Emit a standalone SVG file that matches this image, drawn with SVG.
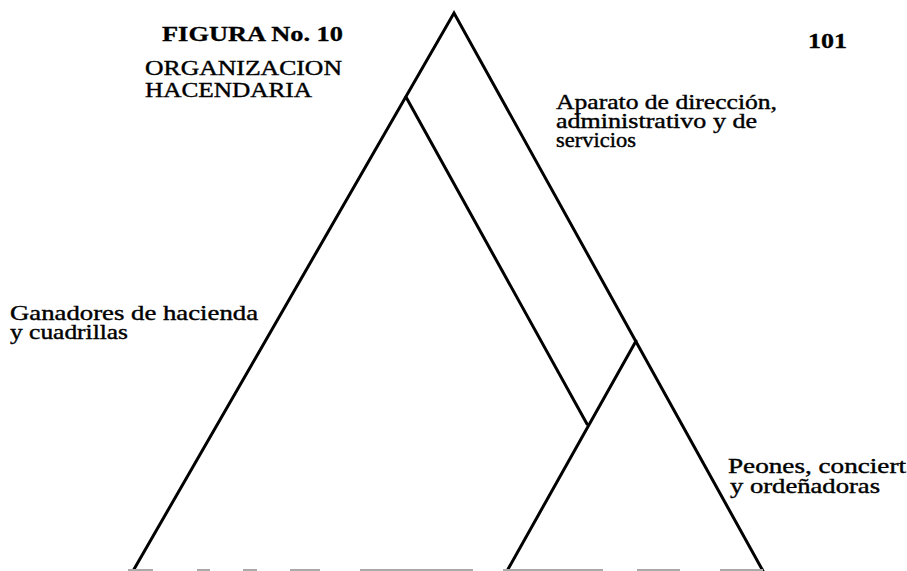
<svg xmlns="http://www.w3.org/2000/svg" width="907" height="571" viewBox="0 0 907 571">
<style>
.t{font-family:"Liberation Serif","Times New Roman",serif;fill:#000;font-size:21px;stroke:#000;stroke-width:0.4}
.b{font-weight:bold;stroke-width:0.3}
.ln{stroke:#000;stroke-width:3;fill:none;stroke-linecap:round;stroke-linejoin:miter}
.base{stroke:#aaa;stroke-width:2}
</style>
<rect width="907" height="571" fill="#fff"/>
<g id="connectors">
<polyline class="ln" points="133,571 454,13 763,571"/>
<line class="ln" x1="406" y1="97" x2="587" y2="424"/>
<line class="ln" x1="636" y1="341" x2="507" y2="571"/>
<g class="base">
<line x1="128" y1="570" x2="153" y2="570"/>
<line x1="197" y1="570" x2="210" y2="570"/>
<line x1="243" y1="570" x2="257" y2="570"/>
<line x1="290" y1="570" x2="320" y2="570"/>
<line x1="360" y1="570" x2="473" y2="570"/>
<line x1="503" y1="570" x2="603" y2="570"/>
<line x1="637" y1="570" x2="680" y2="570"/>
<line x1="720" y1="570" x2="763" y2="570"/>
</g>
</g>
<g id="title">
<text class="t b" x="162" y="41" font-size="23" textLength="181" lengthAdjust="spacingAndGlyphs">FIGURA No. 10</text>
<text class="t" x="145" y="75" textLength="197" lengthAdjust="spacingAndGlyphs">ORGANIZACION</text>
<text class="t" x="145" y="97" textLength="167" lengthAdjust="spacingAndGlyphs">HACENDARIA</text>
</g>
<g id="page">
<text class="t b" x="808" y="48" font-size="24" textLength="39" lengthAdjust="spacingAndGlyphs">101</text>
</g>
<g id="node-aparato">
<text class="t" x="556" y="109" textLength="221" lengthAdjust="spacingAndGlyphs">Aparato de dirección,</text>
<text class="t" x="556" y="128" textLength="201" lengthAdjust="spacingAndGlyphs">administrativo y de</text>
<text class="t" x="556" y="147" textLength="80" lengthAdjust="spacingAndGlyphs">servicios</text>
</g>
<g id="node-ganadores">
<text class="t" x="10" y="320" textLength="248" lengthAdjust="spacingAndGlyphs">Ganadores de hacienda</text>
<text class="t" x="10" y="339" textLength="118" lengthAdjust="spacingAndGlyphs">y cuadrillas</text>
</g>
<g id="node-peones">
<text class="t" x="728" y="473" textLength="178" lengthAdjust="spacingAndGlyphs">Peones, conciert</text>
<text class="t" x="730" y="493" textLength="150" lengthAdjust="spacingAndGlyphs">y ordeñadoras</text>
</g>
</svg>
